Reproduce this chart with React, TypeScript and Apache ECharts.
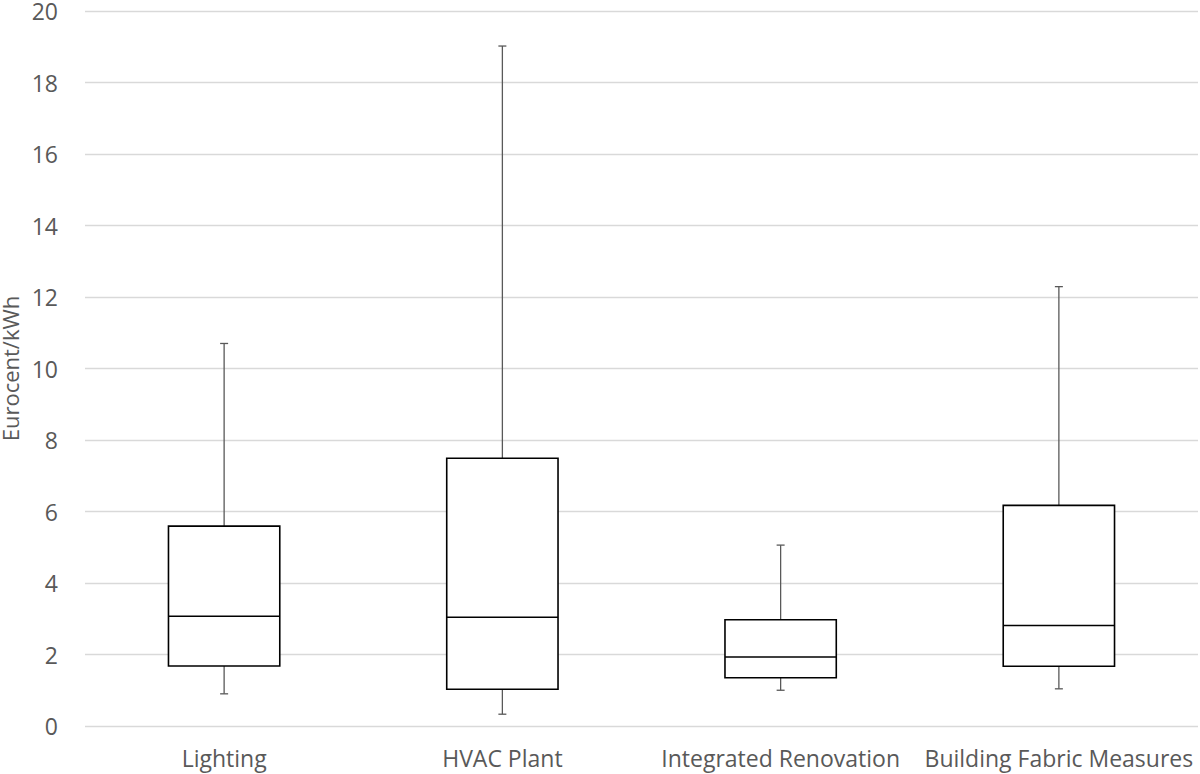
import React, { useEffect, useRef } from "react";
import * as echarts from "echarts";

const categories = ["Lighting", "HVAC Plant", "Integrated Renovation", "Building Fabric Measures"];
const mins = [0.9, 0.33, 1.0, 1.04];
const q1s = [1.68, 1.03, 1.35, 1.67];
const medians = [3.07, 3.04, 1.93, 2.81];
const q3s = [5.59, 7.49, 2.97, 6.17];
const maxs = [10.7, 19.02, 5.06, 12.29];
const yTicks = [0, 2, 4, 6, 8, 10, 12, 14, 16, 18, 20];

const FONT = "'Open Sans', 'Noto Sans', sans-serif";

export default function App() {
  const ref = useRef<HTMLDivElement>(null);
  useEffect(() => {
    document.body.style.margin = "0";
    if (!ref.current) return;
    const chart = echarts.init(ref.current, undefined, { renderer: "svg" });
    const data = categories.map((_, i) => [i, mins[i], q1s[i], medians[i], q3s[i], maxs[i]]);
    chart.setOption({
      animation: false,
      backgroundColor: "#ffffff",
      grid: { left: 85, right: 2, top: 11, bottom: 48, containLabel: false, outerBoundsMode: "none" },
      xAxis: {
        type: "category",
        data: categories,
        axisLine: { show: false },
        axisTick: { show: false },
        axisLabel: { color: "#595959", fontSize: 23, fontFamily: FONT, margin: 20, interval: 0 },
        splitLine: { show: false },
      },
      yAxis: {
        type: "value",
        min: yTicks[0],
        max: yTicks[yTicks.length - 1],
        interval: 2,
        name: "Eurocent/kWh",
        nameLocation: "middle",
        nameGap: 59,
        nameTextStyle: { color: "#595959", fontSize: 22, fontFamily: FONT },
        axisLine: { show: false },
        axisTick: { show: false },
        axisLabel: { color: "#595959", fontSize: 23, fontFamily: FONT, margin: 27 },
        splitLine: { lineStyle: { color: "#d9d9d9", width: 1.3 } },
      },
      series: [
        {
          type: "custom",
          data,
          encode: { x: 0, y: [1, 2, 3, 4, 5] },
          renderItem: (params: any, api: any) => {
            const idx = api.value(0);
            const pMin = api.coord([idx, api.value(1)]);
            const pQ1 = api.coord([idx, api.value(2)]);
            const pMed = api.coord([idx, api.value(3)]);
            const pQ3 = api.coord([idx, api.value(4)]);
            const pMax = api.coord([idx, api.value(5)]);
            const bw = api.size([1, 0])[0] * 0.4;
            const x = pMed[0];
            const cap = 4;
            const wStyle = { stroke: "#595959", lineWidth: 1.3 };
            const bStyle = { stroke: "#000000", lineWidth: 1.6, fill: "#ffffff" };
            return {
              type: "group",
              children: [
                { type: "line", shape: { x1: x, y1: pQ3[1], x2: x, y2: pMax[1] }, style: wStyle },
                { type: "line", shape: { x1: x - cap, y1: pMax[1], x2: x + cap, y2: pMax[1] }, style: wStyle },
                { type: "line", shape: { x1: x, y1: pQ1[1], x2: x, y2: pMin[1] }, style: wStyle },
                { type: "line", shape: { x1: x - cap, y1: pMin[1], x2: x + cap, y2: pMin[1] }, style: wStyle },
                { type: "rect", shape: { x: x - bw / 2, y: pQ3[1], width: bw, height: pQ1[1] - pQ3[1] }, style: bStyle },
                { type: "line", shape: { x1: x - bw / 2, y1: pMed[1], x2: x + bw / 2, y2: pMed[1] }, style: { stroke: "#000000", lineWidth: 1.6 } },
              ],
            };
          },
        },
      ],
    });
    return () => chart.dispose();
  }, []);
  return <div ref={ref} style={{ width: 1200, height: 774 }} />;
}
